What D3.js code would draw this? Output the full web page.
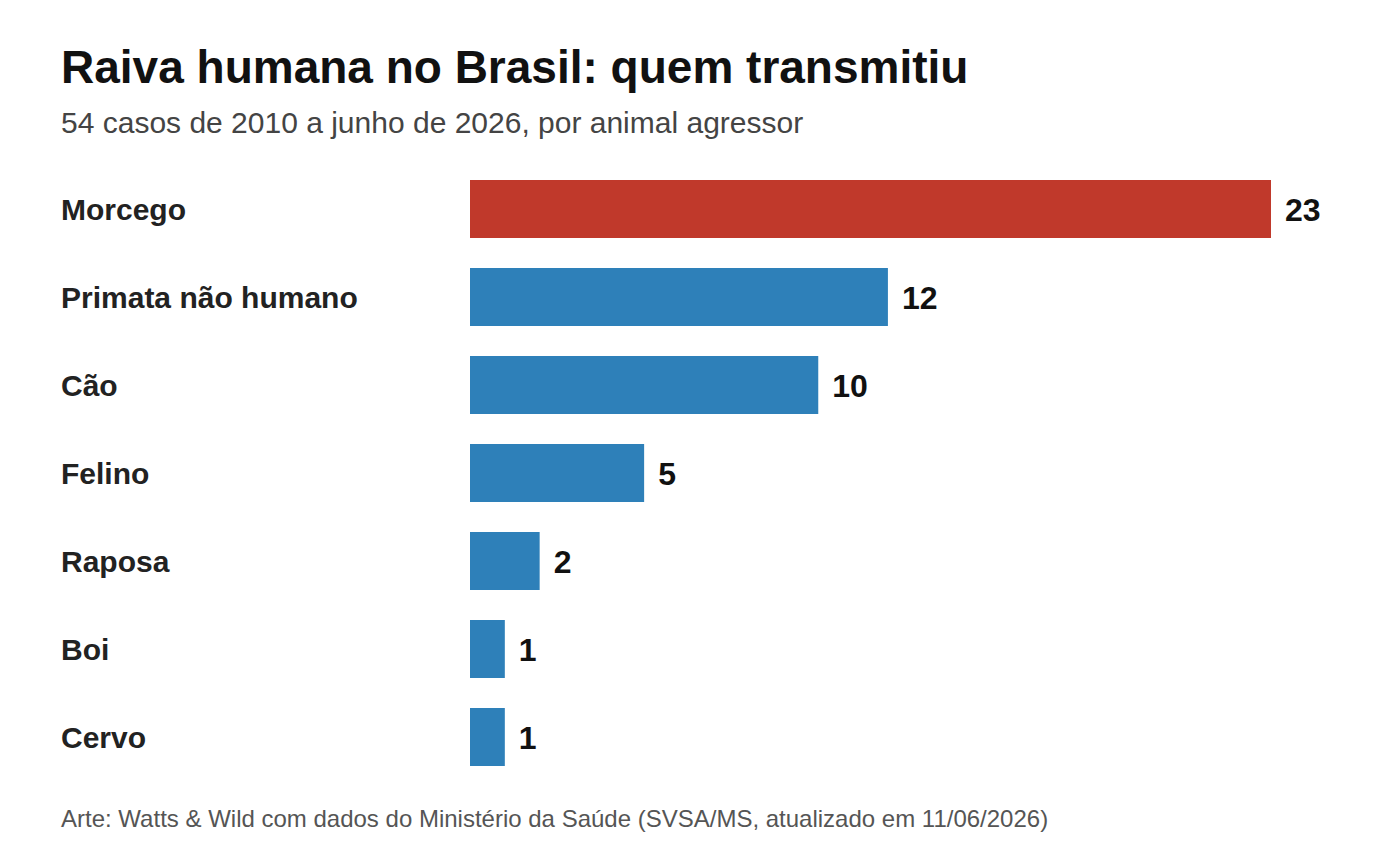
<!DOCTYPE html>
<html>
<head>
<meta charset="utf-8">
<script src="https://cdn.jsdelivr.net/npm/d3@7"></script>
<style>
  body { margin: 0; background: #fff; }
  svg { display: block; font-family: "Liberation Sans", Arial, sans-serif; }
</style>
</head>
<body>
<svg id="chart"></svg>
<script>
const width = 1400
const height = 860

// animal agressor -> casos
const animals = ["Morcego", "Primata não humano", "Cão", "Felino", "Raposa", "Boi", "Cervo"]
const cases = [23, 12, 10, 5, 2, 1, 1]
const highlight = "Morcego"

const title = "Raiva humana no Brasil: quem transmitiu"
const subtitle = "54 casos de 2010 a junho de 2026, por animal agressor"
const source = "Arte: Watts & Wild com dados do Ministério da Saúde (SVSA/MS, atualizado em 11/06/2026)"

const data = animals.map((a, i) => ({ animal: a, value: cases[i] }))

const svg = d3.select("#chart")
  .attr("width", width)
  .attr("height", height)

const x = d3.scaleLinear()
  .domain([0, 23])
  .range([470, 1271])

const y = d3.scaleBand()
  .domain(animals)
  .range([165, 781])
  .paddingInner(0.341)
  .paddingOuter(0.1705)

svg.append("text")
  .attr("x", 61)
  .attr("y", 83)
  .attr("font-size", 46)
  .attr("font-weight", "bold")
  .attr("fill", "#111")
  .text(title)

svg.append("text")
  .attr("x", 61)
  .attr("y", 133)
  .attr("font-size", 30)
  .attr("fill", "#444")
  .text(subtitle)

// category labels
svg.append("g")
  .selectAll("text")
  .data(data)
  .join("text")
  .attr("x", 61)
  .attr("y", d => y(d.animal) + y.bandwidth() / 2)
  .attr("dy", "0.35em")
  .attr("font-size", 30)
  .attr("font-weight", "bold")
  .attr("fill", "#222")
  .text(d => d.animal)

// bars
svg.append("g")
  .selectAll("rect")
  .data(data)
  .join("rect")
  .attr("x", x(0))
  .attr("y", d => y(d.animal))
  .attr("width", d => x(d.value) - x(0))
  .attr("height", y.bandwidth())
  .attr("fill", d => d.animal === highlight ? "#c0392b" : "#2e80b9")

// value labels
svg.append("g")
  .selectAll("text")
  .data(data)
  .join("text")
  .attr("x", d => x(d.value) + 14)
  .attr("y", d => y(d.animal) + y.bandwidth() / 2)
  .attr("dy", "0.36em")
  .attr("font-size", 32)
  .attr("font-weight", "bold")
  .attr("fill", "#111")
  .text(d => d.value)

svg.append("text")
  .attr("x", 61)
  .attr("y", 827)
  .attr("font-size", 24)
  .attr("fill", "#555")
  .text(source)
</script>
</body>
</html>
